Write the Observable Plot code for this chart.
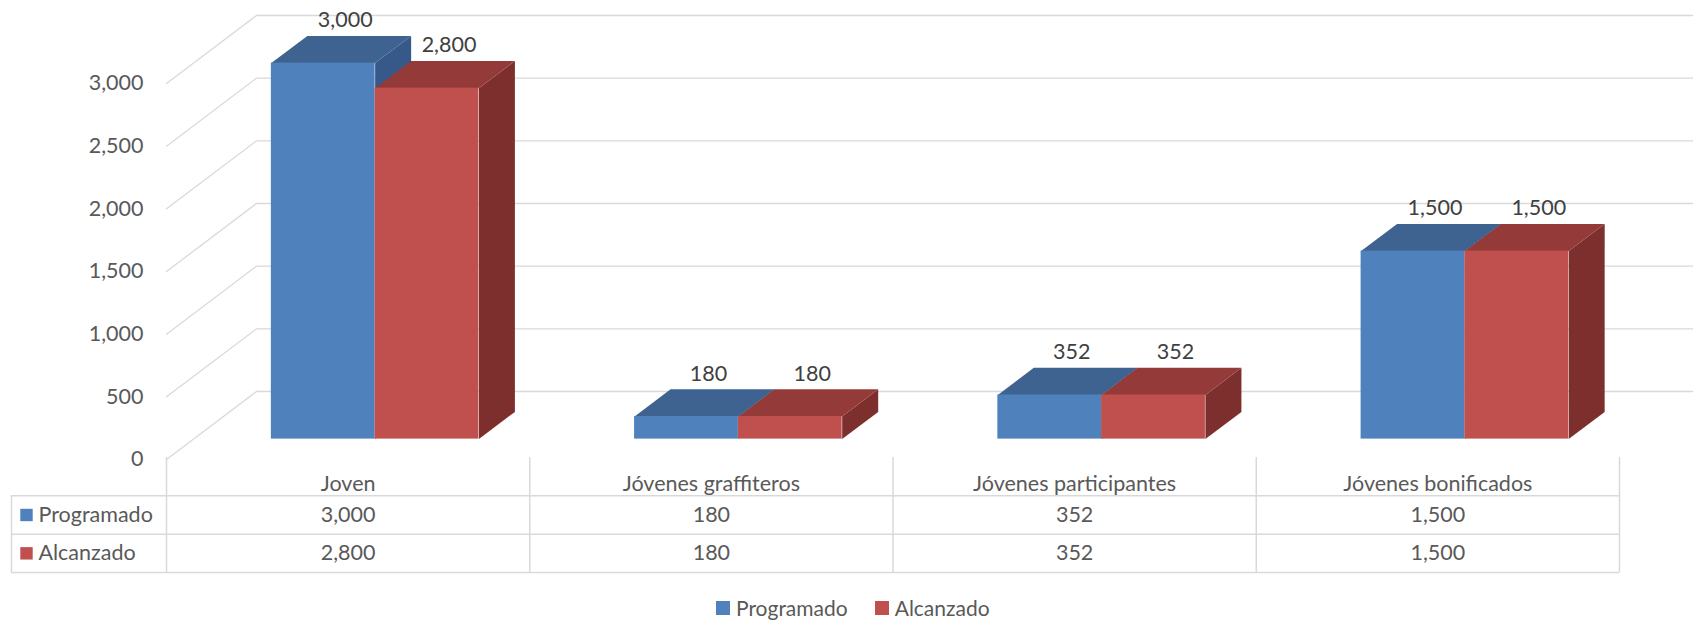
<!DOCTYPE html>
<html><head><meta charset="utf-8">
<script src="https://cdn.jsdelivr.net/npm/d3@7"></script>
<script src="https://cdn.jsdelivr.net/npm/@observablehq/plot@0.6"></script>
<style>
html,body{margin:0;padding:0;background:#fff;}
#wrap{position:relative;width:1693px;height:622px;overflow:hidden;font-family:Lato,"Liberation Sans",sans-serif;}
#chart,#table,#legend{position:absolute;left:0;}
#chart{top:0;}
#table{top:457px;}
#legend{top:597px;left:716px;display:flex;align-items:center;font-size:21px;line-height:22px;height:22px;color:#595959;}
#legend .sw{width:14px;height:14px;display:inline-block;margin-right:6px;}
#legend .it{display:flex;align-items:center;margin-right:27px;}
</style></head><body>
<div id="wrap"><div id="chart"></div><div id="table"></div><div id="legend"></div></div>
<script>
// ---- data ----
const categories = ["Joven", "Jóvenes graffiteros", "Jóvenes participantes", "Jóvenes bonificados"];
const seriesNames = ["Programado", "Alcanzado"];
const programado = [3000, 180, 352, 1500];
const alcanzado = [2800, 180, 352, 1500];
const yTicks = [0, 500, 1000, 1500, 2000, 2500, 3000];

// ---- styles / layout ----
const palette = {
  Programado: {front: "#4F81BD", top: "#3E6390", side: "#36598A"},
  Alcanzado: {front: "#C0504D", top: "#943B39", side: "#7D2F2E"}
};
const W = 1693, ML = 166, MR = 74;
const FS = 21.5;
const fmt = d3.format(",");
const FONT = "Lato, 'Liberation Sans', sans-serif";
const pxPerX = (W - ML - MR) / categories.length;   // pixels per category
const chartH = 480, MT = 83, MB = 21;
const pxPerY = (chartH - MB - MT) / d3.max(yTicks);
const DX = 90 / pxPerX, DY = 68 / pxPerY;             // oblique depth in data units
const z0 = 0.3, z1 = 0.7;                              // bar depth slab
const barW = 1 / 3.5;                                  // gap width 150%
const P = (x, v, z) => ({x: x + z * DX, y: v + z * DY});

const values = {Programado: programado, Alcanzado: alcanzado};

// grid lines (left wall + back wall)
const gridPts = [];
for (const t of yTicks) {
  gridPts.push({...P(0, t, 0), t}, {...P(0, t, 1), t}, {...P(categories.length + 1, t, 1), t});
}

const marks = [
  Plot.line(gridPts, {x: "x", y: "y", z: "t", stroke: "#D9D9D9", strokeWidth: 1.3})
];

const labels = [];
seriesNames.forEach((s, si) => {
  const fronts = [], tops = [], sides = [];
  values[s].forEach((v, i) => {
    const x1 = i + 0.5 - barW + si * barW, x2 = x1 + barW;
    const a = P(x1, 0, z0), b = P(x2, v, z0);
    fronts.push({x1: a.x, x2: b.x, y1: a.y, y2: b.y});
    const key = s + i;
    [P(x1, v, z0), P(x2, v, z0), P(x2, v, z1), P(x1, v, z1)].forEach(p => tops.push({...p, key}));
    [P(x2, 0, z0), P(x2, v, z0), P(x2, v, z1), P(x2, 0, z1)].forEach(p => sides.push({...p, key}));
    labels.push({...P((x1 + x2) / 2, v, 0.5), text: fmt(v)});
  });
  marks.push(
    Plot.line(sides, {x: "x", y: "y", z: "key", fill: palette[s].side, stroke: null}),
    Plot.line(tops, {x: "x", y: "y", z: "key", fill: palette[s].top, stroke: null}),
    Plot.rect(fronts, {x1: "x1", x2: "x2", y1: "y1", y2: "y2", fill: palette[s].front})
  );
});

marks.push(
  Plot.text(labels, {x: "x", y: "y", text: "text", dx: 4, dy: -29, fontSize: FS, fill: "#404040", fontFamily: FONT}),
  Plot.axisY(yTicks, {tickSize: 0, tickPadding: 23, tickFormat: fmt, fontSize: FS, color: "#595959", label: null, fontFamily: FONT})
);

const chart = Plot.plot({
  width: W, height: chartH,
  marginLeft: ML, marginRight: MR, marginTop: MT, marginBottom: MB,
  style: {fontFamily: FONT, fontSize: FS + "px", background: "transparent", overflow: "hidden"},
  x: {domain: [0, categories.length], axis: null},
  y: {domain: [0, d3.max(yTicks)], axis: null},
  marks
});
document.getElementById("chart").append(chart);

// ---- data table ----
const hw = 155 / pxPerX;   // row-header column width in category units
const rowsValues = [programado, alcanzado];
const tableMarks = [
  Plot.ruleY([1, 2, 3], {x1: -hw, x2: categories.length, stroke: "#D9D9D9", strokeWidth: 1.5}),
  Plot.ruleX(d3.range(categories.length + 1), {y1: 0, y2: 3, stroke: "#D9D9D9", strokeWidth: 1.5}),
  Plot.ruleX([-hw], {y1: 1, y2: 3, stroke: "#D9D9D9", strokeWidth: 1.5}),
  Plot.text(categories, {x: (d, i) => i + 0.5, y: 0.5, dy: 7, fontSize: FS, fill: "#595959", fontFamily: FONT}),
  Plot.dot(seriesNames, {x: -hw, y: (d, i) => i + 1.5, dx: 15, symbol: "square", r: 7, fill: d => palette[d].front, stroke: null}),
  Plot.text(seriesNames, {x: -hw, y: (d, i) => i + 1.5, dx: 27, textAnchor: "start", fontSize: FS, fill: "#595959", fontFamily: FONT})
];
rowsValues.forEach((arr, r) => {
  tableMarks.push(Plot.text(arr, {x: (d, i) => i + 0.5, y: r + 1.5, text: d => fmt(d), fontSize: FS, fill: "#595959", fontFamily: FONT}));
});
const table = Plot.plot({
  width: W, height: 118,
  marginLeft: ML, marginRight: MR, marginTop: 0, marginBottom: 3,
  style: {fontFamily: FONT, fontSize: FS + "px", background: "transparent"},
  x: {domain: [0, categories.length], axis: null},
  y: {domain: [0, 3], range: [0, 115], axis: null},
  marks: tableMarks
});
document.getElementById("table").append(table);

// ---- legend ----
const leg = document.getElementById("legend");
seriesNames.forEach(s => {
  const it = document.createElement("span");
  it.className = "it";
  const sw = document.createElement("span");
  sw.className = "sw";
  sw.style.background = palette[s].front;
  it.append(sw, document.createTextNode(s));
  leg.append(it);
});
</script>
</body></html>
